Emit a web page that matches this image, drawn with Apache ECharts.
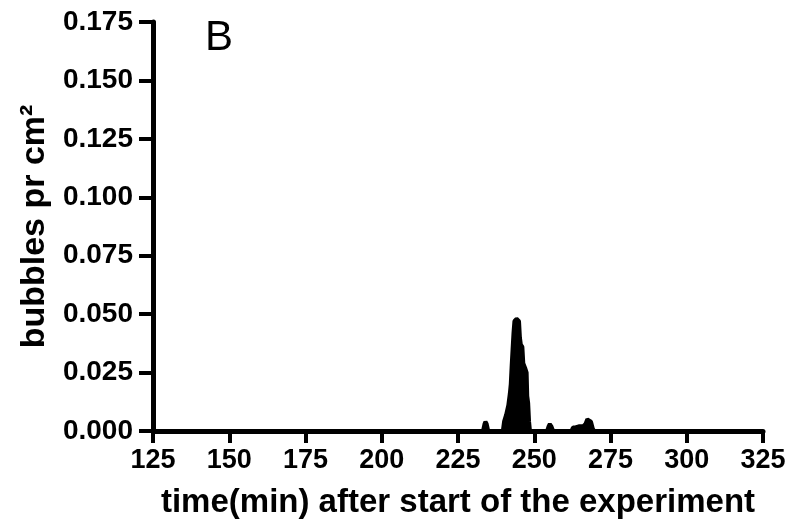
<!DOCTYPE html>
<html>
<head>
<meta charset="utf-8">
<script src="https://cdn.jsdelivr.net/npm/echarts@6/dist/echarts.min.js"></script>
<style>
  html, body { margin: 0; padding: 0; background: #fff; }
  #chart { width: 796px; height: 527px; }
</style>
</head>
<body>
<div id="chart"></div>
<script>
// time (min) after start of the experiment
const timeMin = [
  125, 233.2, 233.7, 234.0, 234.4, 234.9,
  239.7, 240.1, 240.8, 241.5, 242.0, 242.3, 242.6, 242.9, 243.2, 243.5,
  244.2, 245.0, 245.3, 245.6, 246.1, 246.4, 247.0, 247.5, 247.7, 248.0, 248.3, 248.6,
  254.2, 254.7, 255.1, 255.6, 256.2,
  262.2, 262.7, 263.5, 264.0, 264.6, 265.2, 266.0, 266.8, 267.4, 268.0, 268.6, 269.2, 269.6,
  325
];
// bubbles pr cm2
const bubbles = [
  0, 0, 0.003, 0.004, 0.003, 0,
  0, 0.004, 0.007, 0.011, 0.016, 0.020, 0.028, 0.035, 0.042, 0.047,
  0.048, 0.047, 0.040, 0.037, 0.036, 0.029, 0.027, 0.025, 0.015, 0.012, 0.004, 0,
  0, 0.002, 0.003, 0.002, 0,
  0, 0.0015, 0.0015, 0.001, 0.002, 0.0015, 0.002, 0.003, 0.005, 0.0055, 0.004, 0.001, 0,
  0
];
const xTicks = [125, 150, 175, 200, 225, 250, 275, 300, 325];
const yTicks = [0, 0.025, 0.05, 0.075, 0.1, 0.125, 0.15, 0.175];

const chart = echarts.init(document.getElementById("chart"));
const font = "'Liberation Sans', Arial, sans-serif";

const option = {
  backgroundColor: "#fff",
  animation: false,
  grid: {
    left: 153,
    right: 33,
    top: 22,
    bottom: 96,
    containLabel: false,
  },
  xAxis: {
    type: "value",
    min: xTicks[0],
    max: xTicks[xTicks.length - 1],
    interval: 25,
    name: "time(min) after start of the experiment",
    nameLocation: "middle",
    nameGap: 55,
    nameTextStyle: {
      color: "#000",
      fontFamily: font,
      fontWeight: "bold",
      fontSize: 33,
    },
    splitLine: { show: false },
    axisLine: { lineStyle: { color: "#000", width: 5 } },
    axisTick: { length: 12, lineStyle: { color: "#000", width: 4 } },
    axisLabel: {
      margin: 16,
      color: "#000",
      fontFamily: font,
      fontWeight: "bold",
      fontSize: 27,
    },
  },
  yAxis: {
    type: "value",
    min: yTicks[0],
    max: yTicks[yTicks.length - 1],
    interval: 0.025,
    name: "bubbles pr cm²",
    nameLocation: "middle",
    nameRotate: 90,
    nameGap: 94,
    nameTextStyle: {
      color: "#000",
      fontFamily: font,
      fontWeight: "bold",
      fontSize: 34,
    },
    splitLine: { show: false },
    axisLine: { lineStyle: { color: "#000", width: 5 } },
    axisTick: { length: 14, lineStyle: { color: "#000", width: 4 } },
    axisLabel: {
      margin: 20,
      color: "#000",
      fontFamily: font,
      fontWeight: "bold",
      fontSize: 28,
      formatter: (v) => v.toFixed(3),
    },
  },
  graphic: [
    {
      type: "text",
      left: 205,
      top: 17,
      style: {
        text: "B",
        fill: "#000",
        font: "42px " + font,
      },
    },
  ],
  series: [
    {
      type: "line",
      showSymbol: false,
      data: timeMin.map((t, i) => [t, bubbles[i]]),
      lineStyle: { color: "#000", width: 4 },
      areaStyle: { color: "#000", opacity: 1 },
    },
  ],
};

chart.setOption(option);
</script>
</body>
</html>
